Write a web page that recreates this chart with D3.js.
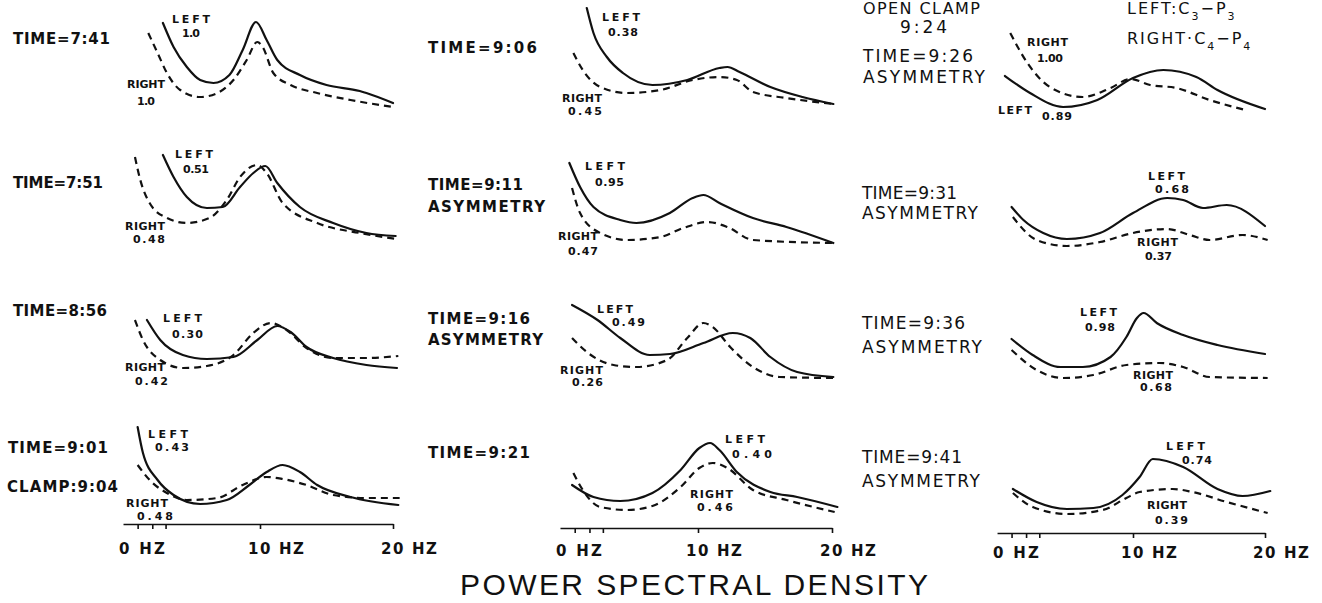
<!DOCTYPE html>
<meta charset="utf-8">
<style>
body { margin: 0; background: #fff; }
.curve { fill: none; stroke: #111; stroke-width: 2.2; stroke-linejoin: round; stroke-linecap: round; }
.curve.right { stroke-dasharray: 7 5; stroke-linecap: butt; }
.axis path, .axis line { stroke: #111; stroke-width: 1.6; }
.lab { font-family: "DejaVu Sans", sans-serif; font-weight: bold; fill: #111; }
.thin { font-family: "DejaVu Sans", sans-serif; font-weight: normal; fill: #111; }
.title { font-family: "Liberation Sans", sans-serif; font-size: 30px; fill: #111; }
</style>
<body>
<script src="https://d3js.org/d3.v7.min.js"></script>
<script>
// spectra, [Hz, relative power] -- solid = LEFT (C3-P3), dashed = RIGHT (C4-P4)
var left741  = [[2.7,97],[3.5,73],[4.5,53],[5.5,40],[6.5,37],[7.7,45],[8.7,70],[9.7,98],[10.5,80],[11.3,60],[13.0,45],[15.0,35],[17.5,29],[18.0,27],[20.0,17]];
var right741 = [[1.6,87],[2.3,67],[3.0,47],[4.0,30],[5.5,23],[6.8,27],[8.0,40],[9.0,60],[9.8,78],[10.2,73],[11.0,47],[12.3,35],[14.3,27],[16.8,20],[20.0,13]];
var left906  = [[1.7,112],[2.2,87],[3.2,63],[4.4,47],[6.6,35],[9.2,40],[11.6,52],[12.2,53],[13.1,48],[15.4,33],[17.8,23],[20.1,16]];
var right906 = [[0.7,67],[1.4,50],[2.7,33],[4.7,27],[7.2,30],[9.6,40],[11.6,43],[12.9,40],[14.1,28],[16.6,22],[20.1,16]];
var left926  = [[0.3,44],[2.2,27],[4.7,13],[7.3,20],[10.0,42],[12.3,50],[14.8,43],[16.4,30],[20.0,11]];
var right926 = [[0.7,87],[2.0,57],[3.7,33],[6.2,23],[8.3,32],[9.8,41],[11.3,35],[13.3,32],[15.8,20],[18.5,10]];
var left751  = [[2.7,105],[3.5,83],[4.5,63],[6.0,52],[7.2,53],[8.5,73],[9.5,87],[10.4,94],[11.3,77],[13.0,53],[15.5,37],[18.0,27],[20.2,24]];
var right751 = [[0.6,103],[1.0,80],[1.7,57],[3.0,42],[4.5,37],[6.2,42],[7.5,60],[8.5,83],[9.8,95],[10.5,87],[11.7,57],[14.3,37],[17.5,27],[20.3,21]];
var left911  = [[0.4,97],[1.2,73],[2.2,53],[4.2,40],[5.4,37],[7.9,47],[9.6,62],[10.4,65],[11.6,57],[14.1,42],[16.6,33],[20.1,17]];
var right911 = [[0.6,72],[1.2,47],[2.7,27],[4.7,20],[7.2,23],[8.9,32],[10.7,38],[12.2,33],[14.1,20],[20.1,17]];
var left931  = [[0.8,53],[1.7,40],[3.2,27],[5.0,21],[7.5,27],[10.0,47],[12.6,62],[13.8,60],[15.3,52],[17.1,55],[20.0,34]];
var right931 = [[0.9,43],[2.7,20],[5.0,14],[7.5,18],[10.0,27],[12.6,31],[14.3,25],[15.8,20],[18.3,25],[20.2,20]];
var left856  = [[1.5,80],[2.5,60],[4.2,45],[6.0,41],[8.0,43],[9.8,60],[11.3,74],[12.3,68],[13.5,53],[15.5,42],[18.0,35],[20.3,32]];
var right856 = [[0.6,80],[1.2,60],[2.5,40],[4.2,32],[6.0,34],[8.0,45],[9.5,67],[10.8,77],[12.0,70],[13.5,52],[15.5,42],[18.0,42],[20.4,44]];
var left916  = [[0.6,95],[2.5,80],[4.2,62],[6.4,45],[7.9,46],[10.4,57],[12.6,67],[13.9,62],[15.4,43],[17.4,28],[20.1,23]];
var right916 = [[0.6,62],[1.7,48],[3.7,35],[5.4,33],[7.7,40],[9.2,62],[10.4,77],[11.1,73],[12.4,53],[14.1,33],[16.1,23],[20.1,22]];
var left936  = [[0.8,61],[2.4,45],[4.5,33],[6.2,33],[8.3,43],[9.5,63],[10.3,82],[10.8,87],[11.8,77],[13.8,65],[16.4,55],[20.0,46]];
var right936 = [[0.8,50],[2.7,30],[4.7,22],[7.0,25],[9.5,35],[12.0,37],[13.8,33],[15.8,23],[20.2,22]];
var left901  = [[0.8,93],[1.2,67],[2.3,40],[3.5,25],[5.5,16],[7.5,20],[9.2,35],[10.5,48],[11.7,55],[13.0,48],[14.3,35],[16.8,23],[20.4,15]];
var right901 = [[0.8,55],[1.7,40],[3.0,27],[4.5,20],[6.8,22],[8.7,35],[10.5,43],[11.7,41],[13.5,35],[15.5,25],[18.0,22],[20.5,22]];
var left921  = [[0.6,35],[2.2,23],[4.2,19],[6.6,27],[8.7,50],[10.1,72],[10.9,77],[11.6,70],[12.9,48],[15.4,28],[17.4,23],[20.4,13]];
var right921 = [[0.7,47],[1.4,30],[2.7,13],[4.7,10],[6.6,14],[8.7,33],[10.1,52],[11.1,57],[12.2,52],[14.1,30],[16.6,20],[20.2,8]];
var left941  = [[0.9,31],[2.7,18],[5.0,11],[7.0,12],[9.2,25],[10.5,43],[11.5,61],[13.8,53],[16.4,31],[18.3,24],[20.4,29]];
var right941 = [[0.9,27],[2.4,13],[5.0,6],[7.7,10],[9.5,22],[10.5,28],[13.0,31],[14.5,28],[17.1,18],[20.2,7]];

// labels, panels in reading order (row by row)
var timeText   = ["TIME=7:41","TIME=9:06","TIME=9:26","TIME=7:51","TIME=9:11","TIME=9:31","TIME=8:56","TIME=9:16","TIME=9:36","TIME=9:01","TIME=9:21","TIME=9:41"];
var noteText   = ["","","ASYMMETRY","","ASYMMETRY","ASYMMETRY","","ASYMMETRY","ASYMMETRY","CLAMP:9:04","","ASYMMETRY"];
var leftRatio  = ["1.0","0.38","0.89","0.51","0.95","0.68","0.30","0.49","0.98","0.43","0.40","0.74"];
var rightRatio = ["1.0","0.45","1.00","0.48","0.47","0.37","0.42","0.26","0.68","0.48","0.46","0.39"];
var hzTicks = [0, 10, 20];
var minorTicks = [0.8, 1.9, 2.9];

var leftSeries  = [left741, left906, left926, left751, left911, left931, left856, left916, left936, left901, left921, left941];
var rightSeries = [right741, right906, right926, right751, right911, right931, right856, right916, right936, right901, right921, right941];

// layout
var W = 1322, H = 603;
var colX = [[127, 393], [564, 832], [1001, 1265]];
var axisY = [524, 528, 533];
var hzLabelY = [554, 556, 558];
var rowBase = [120, 260, 400, 520];

// [x, baseline, width] for text pieces
var timePos = [[13,44,97],[428,53,109],[863,62,110],[13,188,90],[428,190,95],[862,199,95],[13,316,94],[428,324,102],[862,329,103],[8,453,100],[428,458,102],[862,463,100]];
var notePos = [null,null,[863,83,122],null,[428,212,117],[862,219,116],null,[428,345,115],[862,353,120],[7,492,111],null,[862,487,118]];
var leftWordPos  = [[172,23,38],[602,21,38],[998,114,34],[175,158,38],[585,170,40],[1148,180,37],[163,322,39],[597,313,36],[1080,316,37],[148,438,40],[725,443,40],[1166,450,39]];
var leftNumPos   = [[182,37,18],[608,36,30],[1042,120,30],[183,173,26],[595,186,29],[1155,193,34],[172,338,31],[612,326,33],[1085,331,30],[155,451,34],[732,458,40],[1182,464,30]];
var rightWordPos = [[127,88,38],[562,102,40],[1027,46,41],[125,230,40],[558,240,40],[1137,246,41],[125,371,40],[560,374,43],[1133,379,40],[126,507,42],[690,498,43],[1147,509,40]];
var rightNumPos  = [[137,105,18],[568,115,34],[1037,62,26],[133,243,32],[568,255,30],[1145,260,27],[135,385,33],[572,386,31],[1140,391,32],[137,520,36],[697,511,36],[1155,524,33]];

var svg = d3.select("body").append("svg")
    .attr("width", W)
    .attr("height", H);

var xScales = colX.map(function(r) {
  return d3.scaleLinear().domain([0, 20]).range(r);
});
var yScales = rowBase.map(function(b) {
  return d3.scaleLinear().domain([0, 120]).range([b, b - 120]);
});

function putText(cls, str, pos, size) {
  return svg.append("text")
    .attr("class", cls)
    .attr("x", pos[0])
    .attr("y", pos[1])
    .attr("font-size", size)
    .attr("textLength", pos[2])
    .attr("lengthAdjust", "spacing")
    .text(str);
}

leftSeries.forEach(function(ls, i) {
  var col = i % 3, row = Math.floor(i / 3);
  var x = xScales[col], y = yScales[row];
  var line = d3.line()
    .x(function(d) { return x(d[0]); })
    .y(function(d) { return y(d[1]); })
    .curve(d3.curveMonotoneX);

  svg.append("path").attr("class", "curve left").attr("d", line(ls));
  svg.append("path").attr("class", "curve right").attr("d", line(rightSeries[i]));

  var big = col == 2 ? "thin" : "lab";
  var bigSize = col == 2 ? 17 : 15;
  putText(big, timeText[i], timePos[i], bigSize);
  if (noteText[i]) putText(big, noteText[i], notePos[i], bigSize);

  putText("lab", "LEFT", leftWordPos[i], 11);
  putText("lab", leftRatio[i], leftNumPos[i], 11);
  putText("lab", "RIGHT", rightWordPos[i], 11);
  putText("lab", rightRatio[i], rightNumPos[i], 11);
});

// frequency axes under each column
xScales.forEach(function(x, c) {
  var ax = x.copy().domain([-0.3, 20]).range([x(-0.3), x(20)]);
  svg.append("g")
    .attr("class", "axis")
    .attr("transform", "translate(0," + axisY[c] + ")")
    .call(d3.axisBottom(ax)
      .tickValues(minorTicks.concat([10, 20]))
      .tickSize(5)
      .tickSizeOuter(0)
      .tickFormat(""));

  hzTicks.forEach(function(v) {
    var off = v == 0 ? 8 : 12;
    putText("lab", v + " HZ", [x(v) - off, hzLabelY[c], v == 0 ? 46 : 56], 15);
  });
});

// extra notes in the third column
putText("thin", "OPEN CLAMP", [863, 14, 117], 16);
putText("thin", "9:24", [900, 33, 47], 17);

// electrode legend
var leg = [["LEFT:C", "3", "\u2212P", "3", 14], ["RIGHT\u00b7C", "4", "\u2212P", "4", 44]];
leg.forEach(function(l) {
  var t = svg.append("text").attr("class", "thin")
    .attr("x", 1127).attr("y", l[4])
    .attr("font-size", 16)
    .attr("letter-spacing", 2);
  t.append("tspan").text(l[0]);
  t.append("tspan").attr("dy", 6).attr("font-size", 11).text(l[1]);
  t.append("tspan").attr("dy", -6).text(l[2]);
  t.append("tspan").attr("dy", 6).attr("font-size", 11).text(l[3]);
});

putText("title", "POWER SPECTRAL DENSITY", [460, 595, 468], 30);
</script>
</body>
